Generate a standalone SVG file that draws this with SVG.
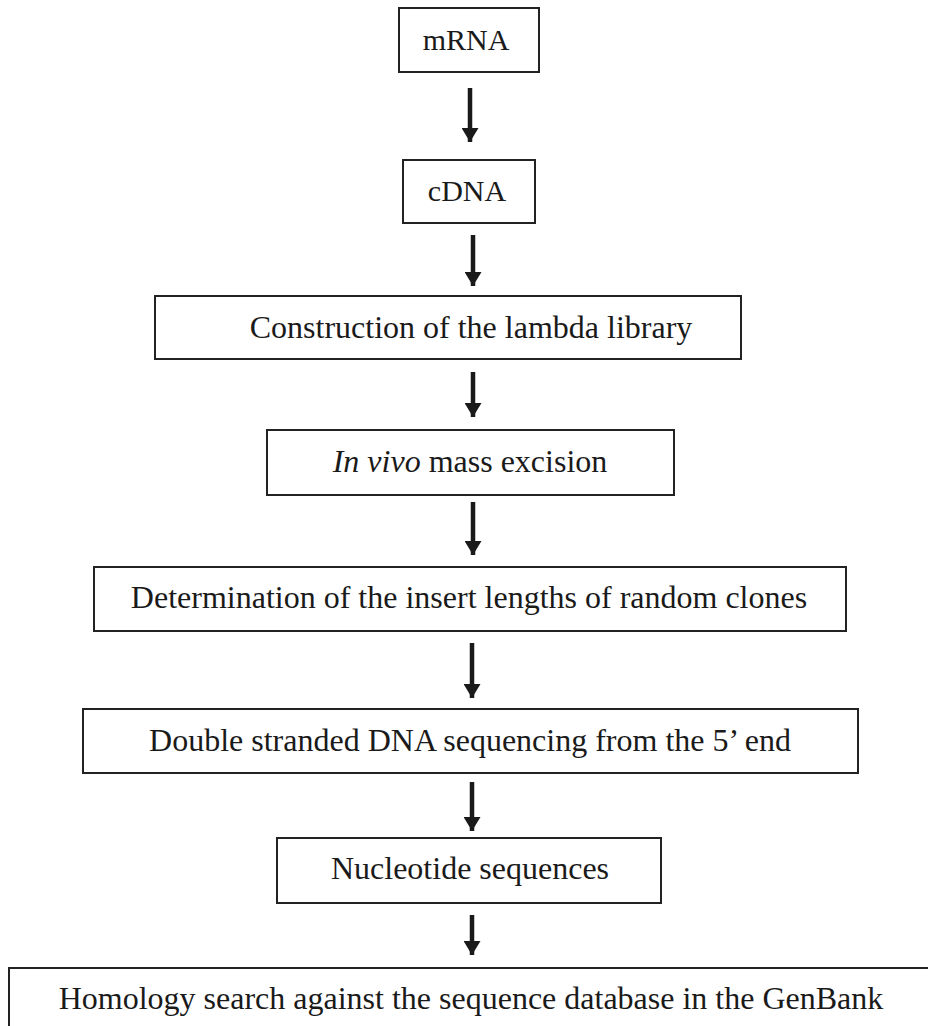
<svg xmlns="http://www.w3.org/2000/svg" width="928" height="1026" viewBox="0 0 928 1026">
  <style>
    .box { fill: #ffffff; stroke: #222222; stroke-width: 2; }
    .lbl { font-family: "Liberation Serif", "Times New Roman", serif; font-size: 32px; fill: #1a1a1a; text-anchor: middle; }
    .small { font-size: 30px; }
    .arrow { stroke: #1a1a1a; stroke-width: 4.5; fill: none; }
  </style>
  <defs>
    <marker id="head" viewBox="0 0 14 17" refX="14" refY="8.5" markerWidth="14" markerHeight="17" markerUnits="userSpaceOnUse" orient="auto">
      <path d="M0,0 L14,8.5 L0,17 Z" fill="#1a1a1a"/>
    </marker>
  </defs>
  <rect width="928" height="1026" fill="#ffffff"/>

  <g id="connectors">
    <line class="arrow" x1="470" y1="88" x2="470" y2="142" marker-end="url(#head)"/>
    <line class="arrow" x1="473" y1="235" x2="473" y2="286" marker-end="url(#head)"/>
    <line class="arrow" x1="473" y1="372" x2="473" y2="417" marker-end="url(#head)"/>
    <line class="arrow" x1="473" y1="502" x2="473" y2="555" marker-end="url(#head)"/>
    <line class="arrow" x1="472" y1="643" x2="472" y2="698" marker-end="url(#head)"/>
    <line class="arrow" x1="472" y1="782" x2="472" y2="831" marker-end="url(#head)"/>
    <line class="arrow" x1="472" y1="915" x2="472" y2="955" marker-end="url(#head)"/>
  </g>

  <g id="mrna">
    <rect class="box" x="399" y="8" width="140" height="64"/>
    <text class="lbl small" x="466" y="50">mRNA</text>
  </g>

  <g id="cdna">
    <rect class="box" x="403" y="160" width="132" height="63"/>
    <text class="lbl small" x="467" y="201">cDNA</text>
  </g>

  <g id="library">
    <rect class="box" x="155" y="296" width="586" height="63"/>
    <text class="lbl" x="471" y="338">Construction of the lambda library</text>
  </g>

  <g id="excision">
    <rect class="box" x="267" y="430" width="407" height="65"/>
    <text class="lbl" x="470" y="472"><tspan font-style="italic">In vivo</tspan> mass excision</text>
  </g>

  <g id="insert-lengths">
    <rect class="box" x="94" y="567" width="752" height="64"/>
    <text class="lbl" x="469" y="608">Determination of the insert lengths of random clones</text>
  </g>

  <g id="sequencing">
    <rect class="box" x="83" y="709" width="775" height="64"/>
    <text class="lbl" x="470" y="751">Double stranded DNA sequencing from the 5’ end</text>
  </g>

  <g id="nucleotides">
    <rect class="box" x="277" y="838" width="384" height="65"/>
    <text class="lbl" x="470" y="879">Nucleotide sequences</text>
  </g>

  <g id="homology">
    <rect class="box" x="9" y="968" width="940" height="80"/>
    <text class="lbl" x="471" y="1009">Homology search against the sequence database in the GenBank</text>
  </g>
</svg>
